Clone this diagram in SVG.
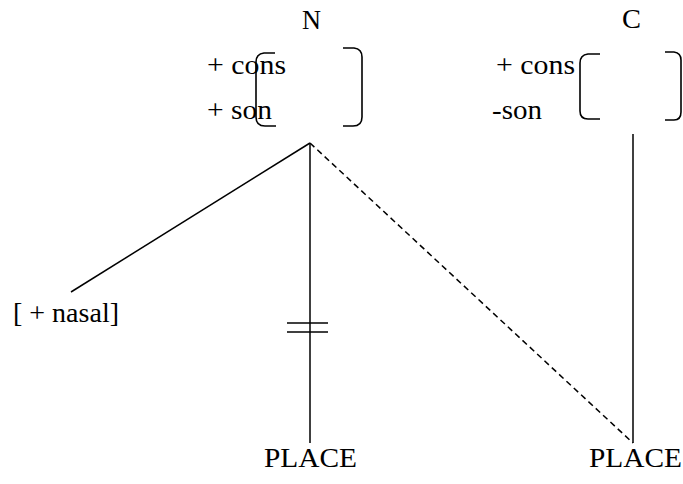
<svg xmlns="http://www.w3.org/2000/svg" width="683" height="484" viewBox="0 0 683 484">
<style>
text{font-family:"Liberation Serif","Times New Roman",serif;font-size:28px;fill:#000}
.ln{stroke:#000;stroke-width:1.5;fill:none}
.br{stroke:#000;stroke-width:1.6;fill:none}
.dash{stroke:#000;stroke-width:1.5;fill:none;stroke-dasharray:6 4}
</style>
<rect width="683" height="484" fill="#fff"/>
<g id="connectors">
<line class="ln" x1="310" y1="143" x2="71" y2="292"/>
<line class="ln" x1="310" y1="143" x2="310" y2="443"/>
<line class="ln" x1="287" y1="323" x2="328" y2="323"/>
<line class="ln" x1="287" y1="332" x2="328" y2="332"/>
<line class="dash" x1="310" y1="143" x2="633" y2="443"/>
<line class="ln" x1="633" y1="134" x2="633" y2="443"/>
</g>
<g id="node-N">
<text x="302" y="29" textLength="19" lengthAdjust="spacingAndGlyphs">N</text>
<text x="207" y="74" textLength="79" lengthAdjust="spacingAndGlyphs">+ cons</text>
<text x="207" y="119" textLength="65" lengthAdjust="spacingAndGlyphs">+ son</text>
<path class="br" d="M275,53 L264,53 Q256,54 256,62 L256,117 Q256,126 265,126 L276,126"/>
<path class="br" d="M343,48 L354,48 Q362,49 362,57 L362,117 Q362,126 353,126 L343,126"/>
</g>
<g id="node-C">
<text x="622" y="28" textLength="19" lengthAdjust="spacingAndGlyphs">C</text>
<text x="496" y="74" textLength="79" lengthAdjust="spacingAndGlyphs">+ cons</text>
<text x="492" y="119" textLength="50" lengthAdjust="spacingAndGlyphs">-son</text>
<path class="br" d="M600,54 L588,54 Q580,55 580,63 L580,111 Q580,119 588,119 L600,119"/>
<path class="br" d="M665,52 L674,52 Q681,53 681,60 L681,112 Q681,120 674,120 L665,120"/>
</g>
<g id="node-nasal">
<text x="13" y="322" textLength="106" lengthAdjust="spacingAndGlyphs">[ + nasal]</text>
</g>
<g id="node-place1">
<text x="264" y="467" textLength="93" lengthAdjust="spacingAndGlyphs">PLACE</text>
</g>
<g id="node-place2">
<text x="589" y="467" textLength="93" lengthAdjust="spacingAndGlyphs">PLACE</text>
</g>
</svg>
